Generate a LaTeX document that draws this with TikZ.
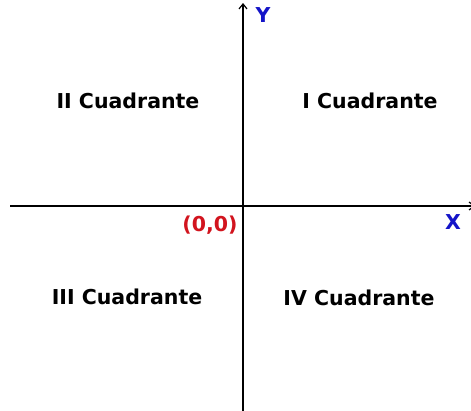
\documentclass[tikz,border=0pt]{standalone}
\usepackage{fontspec}
\setmainfont{DejaVu Sans}
\usetikzlibrary{arrows.meta}
\definecolor{ored}{RGB}{210,20,30}
\definecolor{oblue}{RGB}{20,20,200}
\begin{document}
\begin{tikzpicture}[x=1pt,y=-1pt,
  lbl/.style={font=\fontsize{20.5}{24}\selectfont\bfseries, inner sep=0pt},
  axis/.style={line width=1.6pt, -{Straight Barb[length=5pt,width=8pt,line width=1.2pt]}}]
\useasboundingbox[fill=white] (0,0) rectangle (471,410);
\coordinate (xl) at (10,206);
\coordinate (xr) at (475,206);
\coordinate (yb) at (243,412);
\coordinate (yt) at (243,3);
\draw[axis] (xl) -- (xr);
\draw[axis] (yb) -- (yt);
\node[lbl] (q2) at (128,101) {II Cuadrante};
\node[lbl] (q1) at (370,101) {I Cuadrante};
\node[lbl] (q3) at (127,297) {III Cuadrante};
\node[lbl] (q4) at (359,298) {IV Cuadrante};
\node[lbl, text=ored] (o) at (210,225) {(0,0)};
\node[lbl, text=oblue] (x) at (453,222) {X};
\node[lbl, text=oblue] (y) at (263,15) {Y};
\end{tikzpicture}
\end{document}
